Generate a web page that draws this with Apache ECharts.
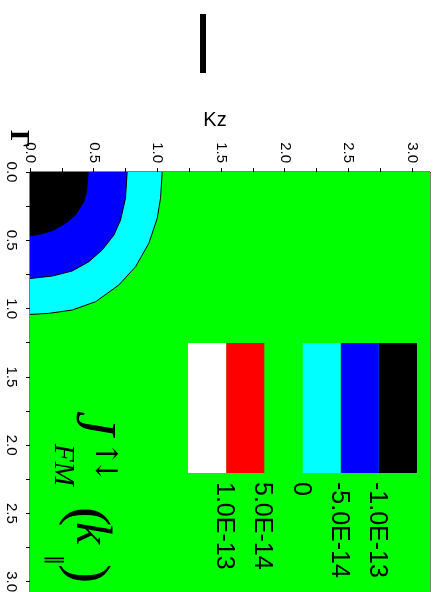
<!DOCTYPE html>
<html><head><meta charset="utf-8">
<script src="https://cdn.jsdelivr.net/npm/echarts@6/dist/echarts.min.js"></script>
<style>html,body{margin:0;padding:0;background:#fff}#c{width:435px;height:592px}</style>
</head><body><div id="c"></div>
<script>
// ---- data ----
const PI = Math.PI;
const kzRange = [0, PI];          // top axis (Kz)
const kpRange = [0, PI];          // left axis
const tickLabelValues = [0, 0.5, 1.0, 1.5, 2.0, 2.5, 3.0];
const tickMarkValues = [0, 0.25, 0.5, 0.75, 1.0, 1.25, 1.5, 1.75, 2.0, 2.25, 2.5, 2.75, 3.0];
const contourLevels = ['-1.0E-13', '-5.0E-14', '0', '5.0E-14', '1.0E-13'];
const levelColors = ['#000000', '#0000ff', '#00ffff', '#00ff00', '#ff0000', '#ffffff'];
// contour boundaries: [Kz, k]
const cyanContour = [[1.038,0],[1.025,0.193],[0.999,0.34],[0.933,0.523],[0.829,0.694],[0.697,0.828],[0.515,0.95],[0.331,1.011],[0.148,1.035],[0,1.043]];
const blueContour = [[0.763,0],[0.75,0.193],[0.711,0.352],[0.659,0.462],[0.567,0.571],[0.462,0.657],[0.331,0.725],[0.174,0.762],[0,0.78]];
const blackContour = [[0.457,0],[0.444,0.143],[0.423,0.218],[0.357,0.315],[0.279,0.376],[0.174,0.43],[0.083,0.454],[0,0.467]];
const domainCorners = [[0,0],[PI,0],[PI,PI],[0,PI]];

const regions = [
  {color: levelColors[3], pts: domainCorners, closed: true},
  {color: levelColors[2], pts: cyanContour},
  {color: levelColors[1], pts: blueContour},
  {color: levelColors[0], pts: blackContour}
];

const chart = echarts.init(document.getElementById('c'), null, {renderer: 'canvas'});
const SANS = "'Liberation Sans', Arial, sans-serif";
const SERIF = "'Liberation Serif', 'Times New Roman', serif";

function rotText(text, x, y, size, opts) {
  opts = opts || {};
  return {
    type: 'text', x: x, y: y, rotation: -PI / 2, z: 100,
    style: {
      text: text,
      font: (opts.style || '') + ' ' + (opts.weight || 'normal') + ' ' + size + 'px ' + (opts.family || SANS),
      fill: '#000',
      textAlign: opts.align || 'left', align: opts.align || 'left',
      textVerticalAlign: 'middle', verticalAlign: 'middle'
    }
  };
}

const graphics = [];
// top bar
graphics.push({type: 'rect', z: 100, shape: {x: 200, y: 14, width: 6, height: 59}, style: {fill: '#000'}});
// Kz title
graphics.push({type: 'text', x: 215, y: 120, z: 100, style: {text: 'Kz', font: '20px ' + SANS, fill: '#000', textAlign: 'center', align: 'center', textVerticalAlign: 'middle', verticalAlign: 'middle'}});
// Gamma
graphics.push(rotText('Γ', 18, 130, 28, {family: SERIF, weight: 'bold'}));
// legend cells
const cellW = 38.17, legRight = 417, legTop = 343, legH = 130;
levelColors.forEach((c, i) => {
  graphics.push({type: 'rect', z: 100, shape: {x: legRight - (i + 1) * cellW, y: legTop, width: cellW, height: legH}, style: {fill: c}});
});
contourLevels.forEach((t, i) => {
  graphics.push(rotText(t, legRight - (i + 1) * cellW - 2, 482, 25));
});
// formula J_FM^{↑↓}(k_∥)
graphics.push(rotText('J', 92, 411, 56, {family: SERIF, style: 'italic'}));
graphics.push(rotText('↑', 104, 441, 30, {family: "'DejaVu Serif', serif"}));
graphics.push(rotText('↓', 104, 458, 30, {family: "'DejaVu Serif', serif"}));
graphics.push(rotText('FM', 63, 444, 29, {family: SERIF, style: 'italic'}));
graphics.push(rotText('(', 86, 507, 58, {family: SERIF}));
graphics.push(rotText('k', 90, 522, 50, {family: SERIF, style: 'italic'}));
graphics.push(rotText('‖', 54, 555, 20, {family: "'DejaVu Sans', sans-serif"}));
graphics.push(rotText(')', 86, 564, 58, {family: SERIF}));

const option = {
  backgroundColor: '#ffffff',
  animation: false,
  grid: {left: 30, top: 172, width: 400, height: 429, show: true, borderColor: '#000', borderWidth: 1, backgroundColor: 'transparent', containLabel: false, outerBoundsMode: 'none'},
  xAxis: {
    type: 'value', position: 'top', min: kzRange[0], max: kzRange[1],
    axisLine: {show: true, lineStyle: {color: '#000', width: 1}},
    axisTick: {show: true, inside: false, length: 4, lineStyle: {color: '#000'}, customValues: tickMarkValues},
    axisLabel: {show: true, rotate: -90, margin: 9, fontSize: 15, fontFamily: SANS, color: '#000', customValues: tickLabelValues, formatter: v => v.toFixed(1)},
    splitLine: {show: false}
  },
  yAxis: {
    type: 'value', inverse: true, min: kpRange[0], max: kpRange[1],
    axisLine: {show: true, lineStyle: {color: '#000', width: 1}},
    axisTick: {show: true, inside: false, length: 4, lineStyle: {color: '#000'}, customValues: tickMarkValues},
    axisLabel: {show: true, rotate: -90, margin: 11, fontSize: 15, fontFamily: SANS, color: '#000', customValues: tickLabelValues, formatter: v => v.toFixed(1)},
    splitLine: {show: false}
  },
  series: [{
    type: 'custom',
    coordinateSystem: 'cartesian2d',
    clip: true,
    silent: true,
    z: 1,
    data: regions.map((r, i) => [0, 0, i]),
    renderItem: function (params, api) {
      const r = regions[params.dataIndex];
      const line = r.pts.map(p => api.coord(p));
      const fillPts = r.closed ? line : [api.coord([0, 0])].concat(line);
      const children = [{type: 'polygon', shape: {points: fillPts}, style: {fill: r.color, stroke: null}}];
      if (!r.closed) children.push({type: 'polyline', shape: {points: line}, style: {stroke: '#000', lineWidth: 1, fill: null}});
      return {type: 'group', children: children};
    }
  }],
  graphic: {elements: graphics}
};
chart.setOption(option);
</script>
</body></html>
